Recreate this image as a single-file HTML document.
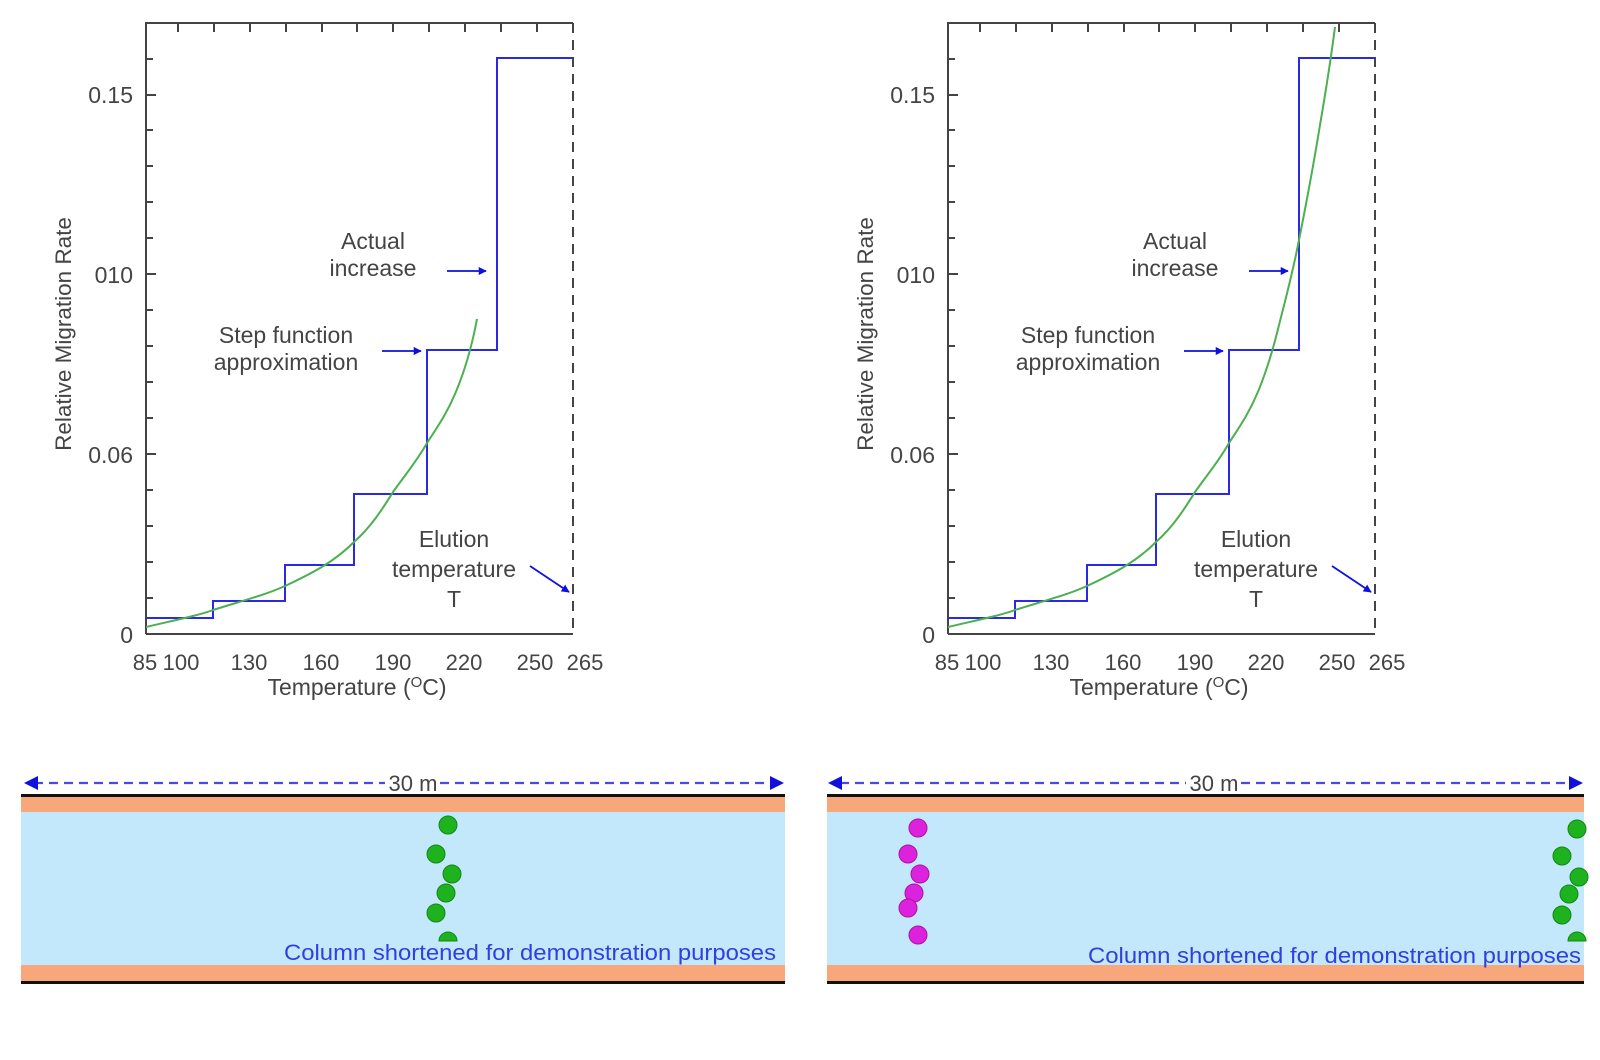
<!DOCTYPE html>
<html><head><meta charset="utf-8"><style>
html,body{margin:0;padding:0;background:#fff;}
svg{display:block;font-family:"Liberation Sans",Arial,sans-serif;}
</style></head><body>
<svg width="1600" height="1060" viewBox="0 0 1600 1060" xmlns="http://www.w3.org/2000/svg">
<defs>
<marker id="ah" viewBox="0 0 10 10" refX="9" refY="5" markerWidth="4.5" markerHeight="4.5" orient="auto"><path d="M0,0L10,5L0,10z" fill="#1010dd"/></marker>
<g id="chart">
  <path d="M146,634 L146,23 L573,23" fill="none" stroke="#444" stroke-width="2"/>
  <line x1="146" y1="634" x2="573" y2="634" stroke="#444" stroke-width="2"/>
  <line x1="573" y1="23" x2="573" y2="634" stroke="#444" stroke-width="2" stroke-dasharray="10,7"/>
  <g stroke="#444" stroke-width="2">
    <line x1="146" y1="598" x2="153" y2="598"/><line x1="146" y1="562" x2="153" y2="562"/>
    <line x1="146" y1="526" x2="153" y2="526"/><line x1="146" y1="490" x2="153" y2="490"/>
    <line x1="146" y1="454" x2="156" y2="454"/><line x1="146" y1="418" x2="153" y2="418"/>
    <line x1="146" y1="382" x2="153" y2="382"/><line x1="146" y1="346" x2="153" y2="346"/>
    <line x1="146" y1="310" x2="153" y2="310"/><line x1="146" y1="274" x2="156" y2="274"/>
    <line x1="146" y1="238" x2="153" y2="238"/><line x1="146" y1="202" x2="153" y2="202"/>
    <line x1="146" y1="166" x2="153" y2="166"/><line x1="146" y1="130" x2="153" y2="130"/>
    <line x1="146" y1="95" x2="156" y2="95"/><line x1="146" y1="59" x2="153" y2="59"/>
    <line x1="178" y1="23" x2="178" y2="32"/><line x1="214" y1="23" x2="214" y2="32"/>
    <line x1="250" y1="23" x2="250" y2="32"/><line x1="286" y1="23" x2="286" y2="32"/>
    <line x1="322" y1="23" x2="322" y2="32"/><line x1="357" y1="23" x2="357" y2="32"/>
    <line x1="393" y1="23" x2="393" y2="32"/><line x1="429" y1="23" x2="429" y2="32"/>
    <line x1="465" y1="23" x2="465" y2="32"/><line x1="501" y1="23" x2="501" y2="32"/>
    <line x1="537" y1="23" x2="537" y2="32"/>
  </g>
  <g font-size="23" fill="#444" text-anchor="end">
    <text x="133" y="103">0.15</text><text x="133" y="283">010</text>
    <text x="133" y="463">0.06</text><text x="133" y="643">0</text>
  </g>
  <g font-size="22" fill="#444" text-anchor="middle">
    <text x="145" y="670">85</text><text x="181" y="670">100</text><text x="249" y="670">130</text>
    <text x="321" y="670">160</text><text x="393" y="670">190</text><text x="464" y="670">220</text>
    <text x="535" y="670">250</text><text x="585" y="670">265</text>
    <text x="357" y="695" font-size="23">Temperature (<tspan font-size="15" dy="-8">O</tspan><tspan dy="8">C)</tspan></text>
  </g>
  <text transform="translate(71,334) rotate(-90)" font-size="22.5" fill="#444" text-anchor="middle">Relative Migration Rate</text>
  <path d="M146,618 L213,618 L213,601 L285,601 L285,565 L354,565 L354,494 L427,494 L427,350 L497,350 L497,58 L573,58" fill="none" stroke="#2a2ae6" stroke-width="2"/>
  <g font-size="23" fill="#444" text-anchor="middle">
    <text x="373" y="249">Actual</text><text x="373" y="276">increase</text>
    <text x="286" y="343">Step function</text><text x="286" y="370">approximation</text>
    <text x="454" y="547">Elution</text><text x="454" y="577">temperature</text><text x="454" y="607">T</text>
  </g>
  <g stroke="#1010dd" stroke-width="1.8" fill="none" marker-end="url(#ah)">
    <line x1="447" y1="271" x2="486" y2="271"/>
    <line x1="382" y1="351" x2="421" y2="351"/>
    <line x1="530" y1="566" x2="569" y2="592"/>
  </g>
</g>
</defs>

<use href="#chart"/>
<path d="M146,627 C180,619 200,615 213,610 C245,600 265,595 285,586 C315,572 335,561 354,542 C372,526 383,508 393,492 C405,475 417,461 427,443 C438,426 447,413 455,394 C464,373 471,351 477,319" fill="none" stroke="#4caf50" stroke-width="2"/>

<g transform="translate(802,0)">
<use href="#chart"/>
<path d="M146,627 C180,619 200,615 213,610 C245,600 265,595 285,586 C315,572 335,561 354,542 C372,526 383,508 393,492 C405,475 417,461 427,443 C438,426 447,413 455,394 C464,373 471,350 477,325 C484,298 490,275 496,245 C504,205 511,168 518,125 C524,90 529,58 533,27" fill="none" stroke="#4caf50" stroke-width="2"/>
</g>

<g transform="translate(0,1)">
<rect x="21" y="795" width="764" height="187" fill="#c3e8fb"/>
<rect x="21" y="795" width="764" height="16" fill="#f7a77a"/>
<rect x="21" y="964" width="764" height="17" fill="#f7a77a"/>
<rect x="21" y="793" width="764" height="3" fill="#111"/>
<rect x="21" y="980" width="764" height="3" fill="#111"/>
<rect x="827" y="795" width="757" height="187" fill="#c3e8fb"/>
<rect x="827" y="795" width="757" height="16" fill="#f7a77a"/>
<rect x="827" y="964" width="757" height="17" fill="#f7a77a"/>
<rect x="827" y="793" width="757" height="3" fill="#111"/>
<rect x="827" y="980" width="757" height="3" fill="#111"/>
</g>
<g stroke="#4a4ae0" stroke-width="2.2" stroke-dasharray="9,6">
  <line x1="34" y1="783" x2="385" y2="783"/><line x1="440" y1="783" x2="772" y2="783"/>
  <line x1="840" y1="783" x2="1186" y2="783"/><line x1="1241" y1="783" x2="1572" y2="783"/>
</g>
<g fill="#1010dd">
  <path d="M24,783 L38,776 L38,790z"/><path d="M784,783 L770,776 L770,790z"/>
  <path d="M828,783 L842,776 L842,790z"/><path d="M1583,783 L1569,776 L1569,790z"/>
</g>
<g font-size="22" fill="#444" text-anchor="middle">
  <text x="413" y="791">30 m</text><text x="1214" y="791">30 m</text>
</g>
<g transform="translate(0,-3)">
<g fill="#1fb21f" stroke="#118811" stroke-width="1">
  <circle cx="448" cy="828" r="9"/><circle cx="436" cy="857" r="9"/><circle cx="452" cy="877" r="9"/>
  <circle cx="446" cy="896" r="9"/><circle cx="436" cy="916" r="9"/><path d="M439,944 A9,9 0 0 1 457,944z"/>
  <circle cx="1577" cy="832" r="9"/><circle cx="1562" cy="859" r="9"/><circle cx="1579" cy="880" r="9"/>
  <circle cx="1569" cy="897" r="9"/><circle cx="1562" cy="918" r="9"/><path d="M1568,944 A9,9 0 0 1 1586,944z"/>
</g>
<g fill="#dd22dd" stroke="#aa11aa" stroke-width="1">
  <circle cx="918" cy="831" r="9"/><circle cx="908" cy="857" r="9"/><circle cx="920" cy="877" r="9"/>
  <circle cx="914" cy="896" r="9"/><circle cx="908" cy="911" r="9"/><circle cx="918" cy="938" r="9"/>
</g>
</g>
<g font-size="22" fill="#2f3fe0" text-anchor="end">
  <text x="776" y="960" textLength="492" lengthAdjust="spacingAndGlyphs">Column shortened for demonstration purposes</text>
  <text x="1581" y="963" textLength="493" lengthAdjust="spacingAndGlyphs">Column shortened for demonstration purposes</text>
</g>
</svg>
</body></html>
